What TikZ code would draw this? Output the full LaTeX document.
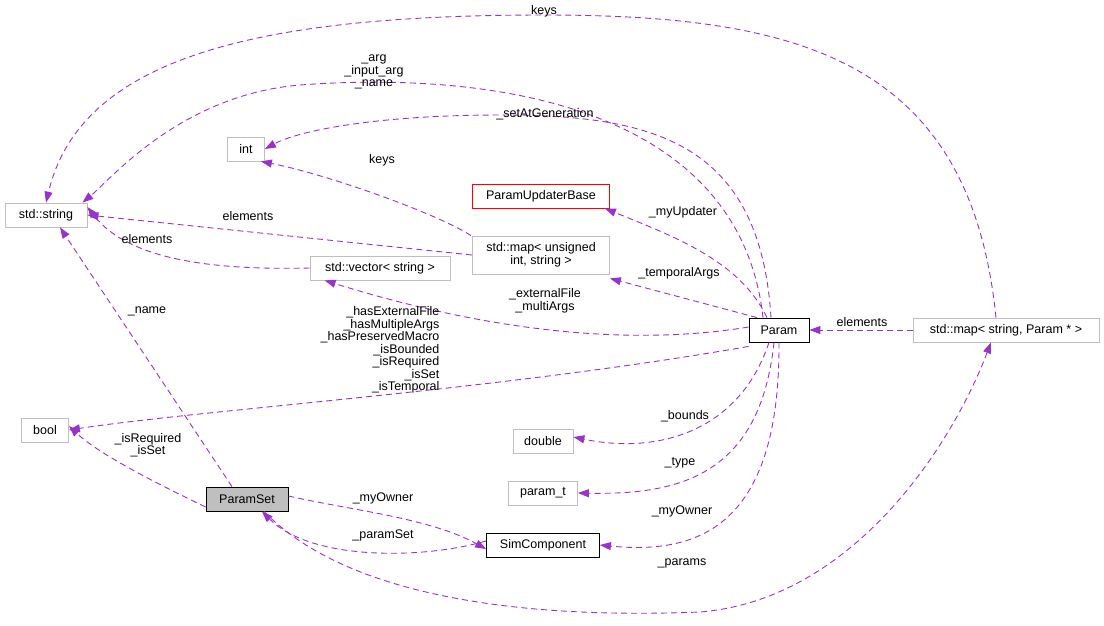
\documentclass[tikz,border=0pt]{standalone}
\usepackage{fontspec}
\setmainfont{Liberation Sans}
\usetikzlibrary{arrows.meta}
\definecolor{edge}{RGB}{153,50,204}
\definecolor{gb}{RGB}{191,191,191}
\begin{document}
\begin{tikzpicture}[x=1pt,y=-1pt,
  every node/.style={font=\fontsize{12.5}{12.5}\selectfont},
  box/.style={draw=gb,fill=white,minimum height=24pt,inner sep=3pt,align=center,line width=0.8pt},
  bbox/.style={box,draw=black},
  e/.style={draw=edge,line width=0.9pt,dash pattern=on 6pt off 4pt,-{Triangle[length=11pt,width=8pt]}},
  lab/.style={align=center,inner sep=1pt}]
\useasboundingbox (0,0) rectangle (1104,625);
\node[box,minimum width=82pt] (str) at (46,215) {std::string};
\node[box,minimum width=47pt] (bool) at (45,430) {bool};
\node[bbox,fill=gb,minimum width=82pt] (ps) at (247,499) {ParamSet};
\node[box,minimum width=37pt] (int) at (246,149) {int};
\node[box,draw=red,minimum width=137pt] (pub) at (541,196) {ParamUpdaterBase};
\node[box,minimum width=137pt,minimum height=38pt] (mui) at (541,255) {std::map\textless{} unsigned\\int, string \textgreater};
\node[box,minimum width=140pt] (vec) at (380,268) {std::vector\textless{} string \textgreater};
\node[bbox,minimum width=60pt] (par) at (779,330) {Param};
\node[box,minimum width=186pt] (msp) at (1006,330) {std::map\textless{} string, Param * \textgreater};
\node[box,minimum width=60pt] (dbl) at (543,441) {double};
\node[box,minimum width=69pt] (pt) at (543,493) {param\_t};
\node[bbox,minimum width=113pt] (sc) at (543,545) {SimComponent};

\draw[e] ([xshift=-16pt]par.north) .. controls (740,110) and (500,70) .. (300,85) .. controls (180,95) and (110,180) .. ([xshift=-5pt]str.north east);
\draw[e] ([xshift=-8pt]par.north) .. controls (760,140) and (650,115) .. (500,115) .. controls (380,115) and (300,130) .. (int.east);
\draw[e] ([xshift=-70pt]mui.north) .. controls (440,215) and (330,175) .. ([xshift=-4pt]int.south east);
\draw[e] (mui.west) -- (str.east);
\draw[e] (vec.west) .. controls (220,270) and (130,262) .. ([yshift=8pt]str.east);
\draw[e] ([xshift=-12pt]par.north) .. controls (740,260) and (670,235) .. ([xshift=-5pt]pub.south east);
\draw[e] ([xshift=-22pt]par.north) -- ([yshift=-4pt]mui.south east);
\draw[e] ([yshift=3pt]par.west) .. controls (640,345) and (500,335) .. ([xshift=15pt]vec.south west);
\draw[e] ([yshift=-4pt]par.south west) .. controls (500,390) and (200,410) .. (bool.east);
\draw[e] ([xshift=-10pt]par.south) .. controls (740,430) and (660,455) .. ([yshift=4pt]dbl.east);
\draw[e] ([xshift=-5pt]par.south) .. controls (760,475) and (680,495) .. (pt.east);
\draw[e] (par.south) .. controls (780,525) and (700,555) .. (sc.east);
\draw[e] (msp.west) -- (par.east);
\draw[e] ([xshift=-10pt]msp.north) .. controls (970,60) and (800,15) .. (544,15) .. controls (250,15) and (80,60) .. (str.north);
\draw[e] ([xshift=-15pt]ps.north) -- ([xshift=14pt]str.south);
\draw[e] ([yshift=-8pt]ps.west) .. controls (160,485) and (100,455) .. ([yshift=4pt]bool.east);
\draw[e] ([yshift=3pt]ps.east) .. controls (350,510) and (430,518) .. ([yshift=-4pt]sc.west);
\draw[e] ([yshift=4pt]sc.west) .. controls (420,560) and (310,560) .. ([xshift=15pt]ps.south);
\draw[e] ([xshift=17pt]ps.south) .. controls (340,590) and (500,620) .. (700,612) .. controls (850,600) and (950,450) .. ([xshift=-15pt]msp.south);

\node[lab] at (544,11) {keys};
\node[lab] at (374,72) {\_arg\\\_input\_arg\\\_name};
\node[lab] at (545,114) {\_setAtGeneration};
\node[lab] at (382,160) {keys};
\node[lab] at (248,216) {elements};
\node[lab] at (147,239) {elements};
\node[lab] at (683,212) {\_myUpdater};
\node[lab] at (679,273) {\_temporalArgs};
\node[lab] at (545,301) {\_externalFile\\\_multiArgs};
\node[lab,align=right] at (380,350) {\_hasExternalFile\\\_hasMultipleArgs\\\_hasPreservedMacro\\\_isBounded\\\_isRequired\\\_isSet\\\_isTemporal};
\node[lab] at (147,311) {\_name};
\node[lab] at (148,445) {\_isRequired\\\_isSet};
\node[lab] at (685,416) {\_bounds};
\node[lab] at (680,463) {\_type};
\node[lab] at (682,511) {\_myOwner};
\node[lab] at (862,322) {elements};
\node[lab] at (383,498) {\_myOwner};
\node[lab] at (383,535) {\_paramSet};
\node[lab] at (682,563) {\_params};
\end{tikzpicture}
\end{document}
